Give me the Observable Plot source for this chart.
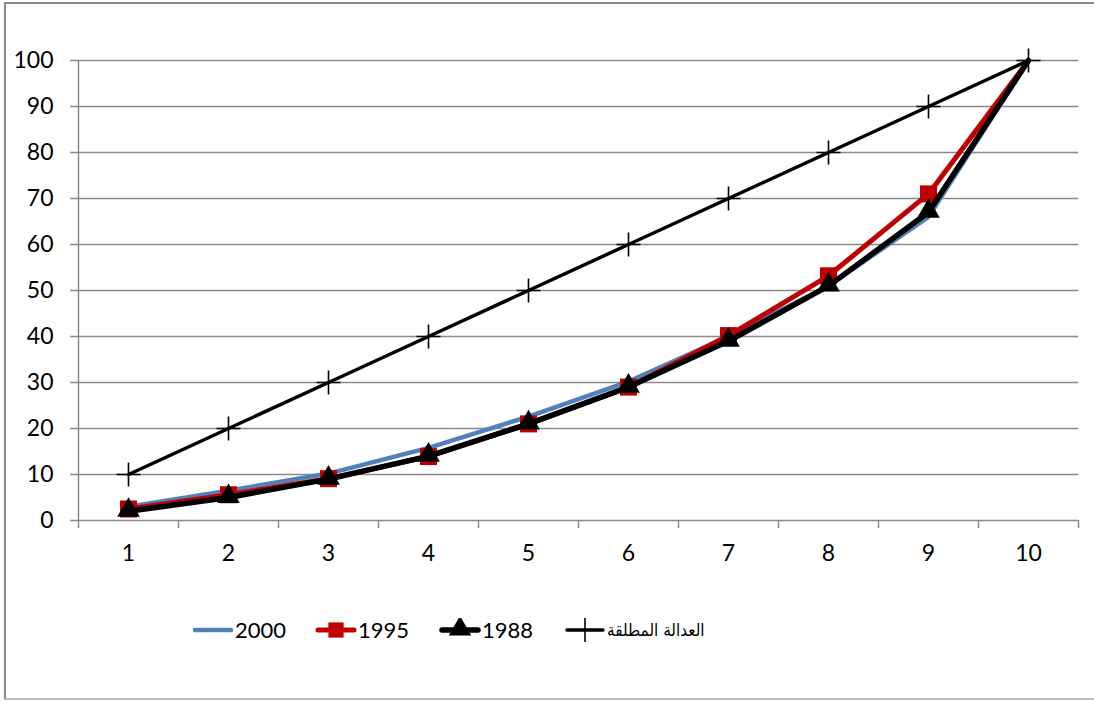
<!DOCTYPE html>
<html>
<head>
<meta charset="utf-8">
<script src="https://cdn.jsdelivr.net/npm/d3@7"></script>
<script src="https://cdn.jsdelivr.net/npm/@observablehq/plot@0.6"></script>
<style>
  html, body { margin: 0; padding: 0; background: #fff; }
  body { width: 1094px; height: 704px; position: relative; overflow: hidden; font-family: Lato, "Open Sans", sans-serif; }
  #frame { position: absolute; left: 4px; top: 2px; width: 1200px; height: 698px;
           border-left: 2px solid #8a8a8a; border-top: 2px solid #8a8a8a; border-bottom: 2px solid #bdbdbd; box-sizing: border-box; }
  #chart { position: absolute; left: 0; top: 0; }
  #legend { position: absolute; left: 0; top: 618px; width: 1094px; height: 24px; }
  .item { position: absolute; top: 0; display: flex; align-items: center; height: 24px; }
  .item span { font-size: 22px; color: #000; margin-left: 1px; line-height: 24px; }
  .item span.ar { font-family: "DejaVu Sans Condensed", "DejaVu Sans", sans-serif; font-size: 17px; }
</style>
</head>
<body>
<div id="frame"></div>
<div id="chart"></div>
<div id="legend"></div>
<script>
const categories = [1, 2, 3, 4, 5, 6, 7, 8, 9, 10];
const s2000 = [3, 6.5, 10.2, 15.8, 22.6, 30.2, 40, 51, 66, 100];
const s1995 = [2.5, 5.6, 9.1, 13.9, 21, 29, 40.2, 53.2, 71, 100];
const s1988 = [2, 5, 9, 14, 21, 29, 39, 51, 67, 100];
const equality = [10, 20, 30, 40, 50, 60, 70, 80, 90, 100];
const yTicks = [0, 10, 20, 30, 40, 50, 60, 70, 80, 90, 100];
const equalityLabel = "العدالة المطلقة";

const rows = (vals) => categories.map((c, i) => ({x: c, y: vals[i]}));
const d2000 = rows(s2000), d1995 = rows(s1995), d1988 = rows(s1988), dEq = rows(equality);

const plusSymbol = {
  draw(ctx, size) {
    const r = Math.sqrt(size / Math.PI);
    ctx.moveTo(-r, 0); ctx.lineTo(r, 0);
    ctx.moveTo(0, -r); ctx.lineTo(0, r);
  }
};

const grey = "#8a8a8a";
const bounds = d3.range(categories.length + 1).map(i => categories[0] - 0.5 + i);

const chart = Plot.plot({
  width: 1094,
  height: 600,
  marginLeft: 78,
  marginRight: 16,
  marginTop: 60,
  marginBottom: 80,
  style: {fontFamily: "Lato, 'Open Sans', sans-serif", fontSize: "23px", color: "#000", background: "transparent"},
  x: {type: "linear", domain: [categories[0] - 0.5, categories[categories.length - 1] + 0.5]},
  y: {domain: [0, 100]},
  marks: [
    Plot.gridY(yTicks, {stroke: grey, strokeOpacity: 1, strokeWidth: 1.5}),
    Plot.axisY(yTicks, {tickSize: 8, tickPadding: 17, stroke: grey, strokeWidth: 1.5, fill: "#000", fontSize: 23, label: null}),
    Plot.ruleX([bounds[0]], {stroke: grey, strokeWidth: 1.5}),
    Plot.axisX(bounds, {tickSize: 8, tickFormat: () => "", stroke: grey, strokeWidth: 1.5, label: null}),
    Plot.axisX(categories, {tickSize: 0, tickPadding: 24, fill: "#000", fontSize: 23, label: null, tickFormat: d => String(d)}),
    Plot.line(d2000, {x: "x", y: "y", stroke: "#4f81bd", strokeWidth: 4.5}),
    Plot.line(d1995, {x: "x", y: "y", stroke: "#c00000", strokeWidth: 5}),
    Plot.dot(d1995.slice(0, -1), {x: "x", y: "y", symbol: "square", r: 9.6, fill: "#c00000", stroke: null}),
    Plot.line(d1988, {x: "x", y: "y", stroke: "#000", strokeWidth: 5.5}),
    Plot.dot(d1988.slice(0, -1), {x: "x", y: "y", symbol: "triangle", r: 8.4, fill: "#000", stroke: null, dy: -1}),
    Plot.line(dEq, {x: "x", y: "y", stroke: "#000", strokeWidth: 3.5}),
    Plot.dot(dEq, {x: "x", y: "y", symbol: plusSymbol, r: 12, fill: "none", stroke: "#000", strokeWidth: 1.6})
  ]
});
document.getElementById("chart").appendChild(chart);

// Legend
const legendItems = [
  {label: "2000", color: "#4f81bd", width: 4.5, marker: null, left: 192},
  {label: "1995", color: "#c00000", width: 5, marker: "square", left: 315},
  {label: "1988", color: "#000", width: 5.5, marker: "triangle", left: 439},
  {label: equalityLabel, color: "#000", width: 3.5, marker: "plus", left: 564, ar: true}
];
const legend = d3.select("#legend");
for (const it of legendItems) {
  const div = legend.append("div").attr("class", "item").style("left", it.left + "px");
  const svg = div.append("svg").attr("width", 42).attr("height", 24);
  svg.append("line").attr("x1", 3).attr("x2", 39).attr("y1", 12).attr("y2", 12)
    .attr("stroke", it.color).attr("stroke-width", it.width).attr("stroke-linecap", "round");
  if (it.marker === "square") {
    svg.append("path").attr("transform", "translate(21,12)").attr("d", d3.symbol(d3.symbolSquare, 9.6 * 9.6 * Math.PI * 0.8)()).attr("fill", it.color);
  } else if (it.marker === "triangle") {
    svg.append("path").attr("transform", "translate(21,11)").attr("d", d3.symbol(d3.symbolTriangle, 8.4 * 8.4 * Math.PI)()).attr("fill", it.color);
  } else if (it.marker === "plus") {
    svg.append("path").attr("d", "M21,0V24").attr("stroke", "#000").attr("stroke-width", 1.6);
  }
  const sp = div.append("span").text(it.label);
  if (it.ar) sp.attr("class", "ar").attr("dir", "rtl");
}
</script>
</body>
</html>
